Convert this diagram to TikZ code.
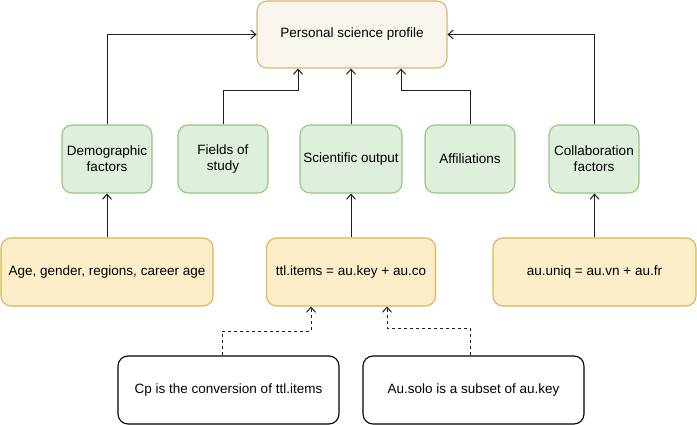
\documentclass[tikz,border=0pt]{standalone}
\usepackage{fontspec}
\setmainfont{Liberation Sans}
\usetikzlibrary{arrows.meta,positioning}
\definecolor{topfill}{HTML}{F9F6EE}
\definecolor{topdraw}{HTML}{D7B878}
\definecolor{gfill}{HTML}{DEEFDB}
\definecolor{gdraw}{HTML}{97C581}
\definecolor{yfill}{HTML}{FBEEC8}
\definecolor{ydraw}{HTML}{D8B656}
\tikzset{
  x=1pt,y=-1pt,
  box/.style={rounded corners=10pt, line width=1.1pt, align=center, font=\fontsize{13.5}{16}\selectfont, inner sep=0pt},
  topbox/.style={box, fill=topfill, draw=topdraw},
  gbox/.style={box, fill=gfill, draw=gdraw, minimum width=90pt, minimum height=68pt},
  ybox/.style={box, fill=yfill, draw=ydraw, minimum height=68pt},
  wbox/.style={box, fill=white, draw=black, minimum width=221pt, minimum height=68pt},
  conn/.style={line width=1pt, draw={rgb,255:red,30;green,30;blue,30}, -{Straight Barb[length=5pt,width=9pt]}},
  dconn/.style={conn, dash pattern=on 3pt off 3pt}
}
\begin{document}
\begin{tikzpicture}
\useasboundingbox (0,0) rectangle (697,425);
\node[topbox, minimum width=190pt, minimum height=67pt] (top) at (352,34.5) {Personal science profile};
\node[gbox] (demo) at (107,159) {Demographic\\factors};
\node[gbox] (fields) at (223,159) {Fields of\\study};
\node[gbox, minimum width=102pt] (sci) at (351,159) {Scientific output};
\node[gbox] (aff) at (470,159) {Affiliations};
\node[gbox] (collab) at (594,159) {Collaboration\\factors};
\node[ybox, minimum width=212pt] (age) at (107,272) {Age, gender, regions, career age};
\node[ybox, minimum width=169pt] (ttl) at (351,272) {ttl.items = au.key + au.co};
\node[ybox, minimum width=203pt] (uniq) at (594.5,272) {au.uniq = au.vn + au.fr};
\node[wbox] (cp) at (228.5,390) {Cp is the conversion of ttl.items};
\node[wbox] (solo) at (473.5,390) {Au.solo is a subset of au.key};
\coordinate (cpk1) at (222,331);
\coordinate (cpk2) at (311,331);
\coordinate (sok1) at (470,328);
\coordinate (sok2) at (387,328);
\coordinate (fk1) at (223,91);
\coordinate (fk2) at (298,91);
\coordinate (ak1) at (470,91);
\coordinate (ak2) at (401,91);
\draw[conn] (demo.north) |- (top.west);
\draw[conn] (collab.north) |- (top.east);
\draw[conn] (fields.north) -- (fk1) -- (fk2) -- (fk2 |- top.south);
\draw[conn] (aff.north) -- (ak1) -- (ak2) -- (ak2 |- top.south);
\draw[conn] (sci.north) -- (sci.north |- top.south);
\draw[conn] (age.north) -- (demo.south);
\draw[conn] (ttl.north) -- (sci.south);
\draw[conn] (uniq.north) -- (uniq.north |- collab.south);
\draw[dconn] (cpk1 |- cp.north) -- (cpk1) -- (cpk2) -- (cpk2 |- ttl.south);
\draw[dconn] (sok1 |- solo.north) -- (sok1) -- (sok2) -- (sok2 |- ttl.south);
\end{tikzpicture}
\end{document}
